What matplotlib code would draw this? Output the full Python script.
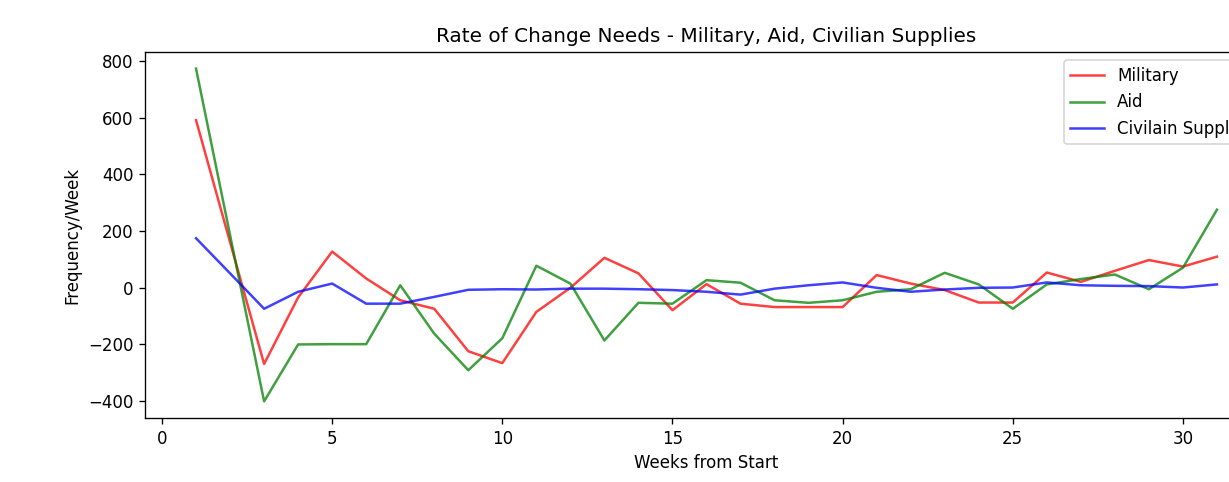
import matplotlib
matplotlib.use("Agg")
import matplotlib.pyplot as plt

# weekly rate of change, weeks 1..31
weeks = list(range(1, 32))

military = [591, 160, -270, -35, 127, 32, -45, -75, -225, -267,
            -86, -1, 105, 50, -80, 12, -57, -69, -69, -69,
            44, 14, -9, -53, -53, 53, 20, 59, 97, 74, 109]

aid = [773, 185, -402, -201, -200, -200, 8, -163, -292, -179,
       77, 14, -187, -54, -57, 26, 17, -45, -54, -45,
       -15, -6, 52, 11, -75, 11, 30, 46, -6, 70, 275]

civilian = [174, 50, -75, -15, 14, -57, -57, -33, -8, -6,
            -7, -4, -4, -6, -9, -15, -25, -4, 8, 18,
            -1, -15, -7, -1, 0, 18, 8, 6, 5, 0, 11]

# ----- graph part -----
dpi = 120
fig = plt.figure(figsize=(1229 / dpi, 482 / dpi), dpi=dpi)
# axes run past the right edge, like the cropped original
ax = fig.add_axes([145 / 1229, 1 - 418 / 482, 1123 / 1229, 366 / 482])

ax.plot(weeks, military, color="r", alpha=0.75, label="Military")
ax.plot(weeks, aid, color="g", alpha=0.75, label="Aid")
ax.plot(weeks, civilian, color="b", alpha=0.75, label="Civilain Supplies")

ax.set_title("Rate of Change Needs - Military, Aid, Civilian Supplies")
ax.set_xlabel("Weeks from Start")
ax.set_ylabel("Frequency/Week")
ax.legend(loc="upper right")

fig.savefig("out.png", dpi=dpi)
